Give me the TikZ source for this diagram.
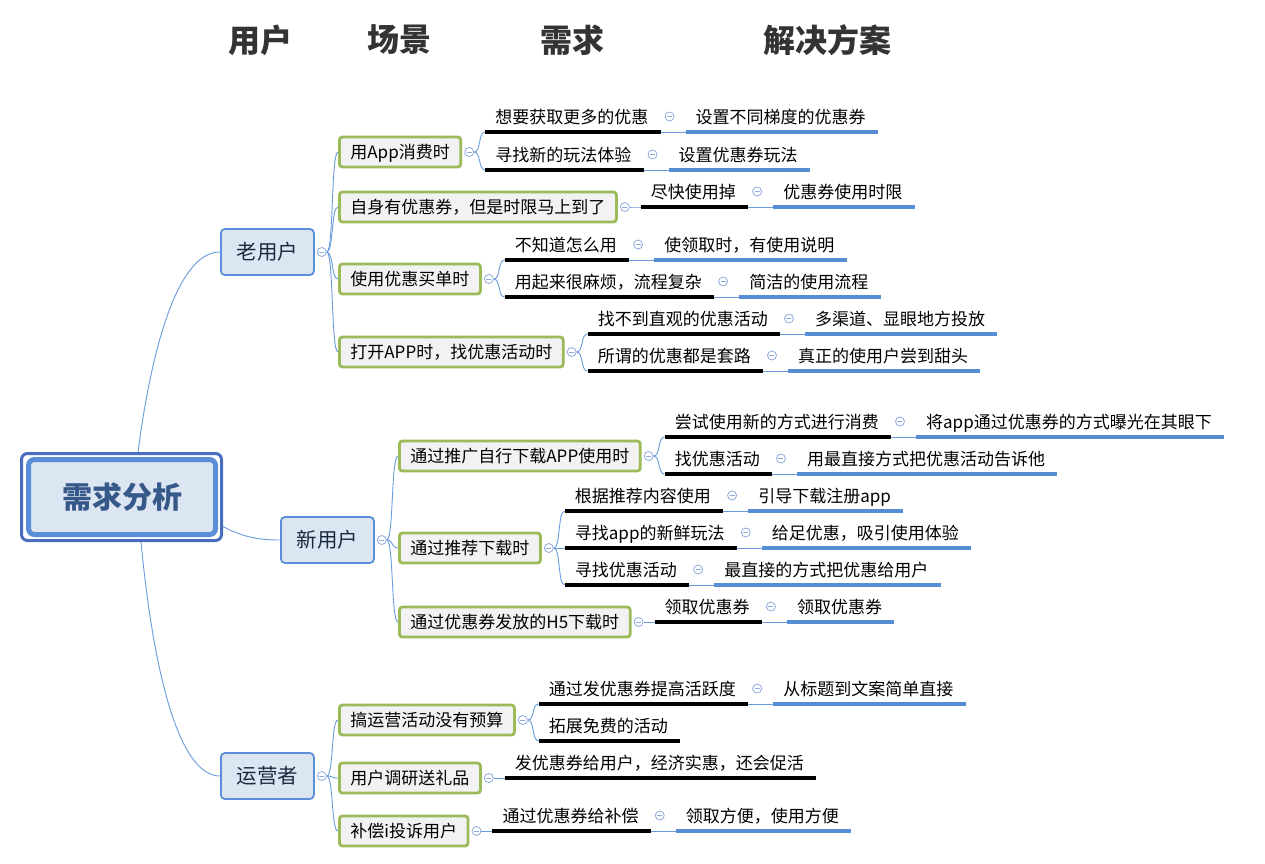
\documentclass[tikz,border=0pt]{standalone}
\usepackage{fontspec}
\setmainfont{Noto Sans CJK SC}
\usetikzlibrary{calc}
\pgfdeclarelayer{bg}
\pgfsetlayers{bg,main}
\definecolor{headgray}{HTML}{333333}
\definecolor{lbluebd}{HTML}{5B8FD9}
\definecolor{lbluefill}{HTML}{DCE6F2}
\definecolor{darktext}{HTML}{1A2B40}
\definecolor{greenbd}{HTML}{9BBB59}
\definecolor{grayfill}{HTML}{F2F2F2}
\definecolor{ulbluec}{HTML}{558ED5}
\definecolor{connc}{HTML}{6A9BDC}
\definecolor{collbd}{HTML}{8FAADC}
\definecolor{rootoutc}{HTML}{4A6EBE}
\definecolor{rootinc}{HTML}{5A8ED6}
\definecolor{roottext}{HTML}{37598A}
\newcommand\scene[5]{%
  \node[ltwo, anchor=west] (#1) at (#3,#4) {#5};
  \node[coll] (#1c) at ($(#1.east)+(7,0)$) {};
  \begin{pgfonlayer}{bg}\draw[conn] (#2.east) .. controls +(7,0) and +(-7,0) .. (#1.west);\end{pgfonlayer}
}
\newcommand\need[4]{%
  \coordinate (#1x) at ($(#2.east)+(11,0)$);
  \coordinate (#1u) at (#1x |- 0,#3);
  \node[lthree, anchor=west] (#1) at ($(#1u)+(10,-15.5)$) {#4};
  \coordinate (#1e) at ($(#1.east)+(12,15.5)$);
  \draw[ulblack] (#1u) -- (#1e);
  \begin{pgfonlayer}{bg}\draw[conn] (#2.east) .. controls +(7,0) and +(-7,0) .. (#1u);\end{pgfonlayer}
}
\newcommand\sol[3]{%
  \node[coll] (#1c) at ($(#2.east)+(21,0)$) {};
  \node[lfour, anchor=west] (#1) at ($(#1c)+(26,0)$) {#3};
  \coordinate (#1u) at ($(#1.west)+(-10,15.5)$);
  \draw[ulblue] (#1u) -- ($(#1.east)+(12,15.5)$);
  \begin{pgfonlayer}{bg}\draw[conn] (#2e) -- (#1u);\end{pgfonlayer}
}
\begin{document}
\begin{tikzpicture}[x=1pt,y=-1pt,
  head/.style={font=\fontsize{32}{36}\selectfont\bfseries, text=headgray, inner sep=0},
  rootout/.style={draw=rootoutc, line width=3pt, fill=white, rounded corners=6pt, minimum width=200pt, minimum height=87pt, inner sep=0},
  rootin/.style={draw=rootinc, line width=5pt, fill=lbluefill, rounded corners=6pt, minimum width=187pt, minimum height=75pt, inner sep=0, font=\fontsize{30}{34}\selectfont\bfseries, text=roottext},
  lone/.style={draw=lbluebd, line width=1.8pt, fill=lbluefill, rounded corners=4pt, minimum width=93pt, minimum height=46pt, inner sep=0, font=\fontsize{20.5}{24}\selectfont, text=darktext},
  ltwo/.style={draw=greenbd, line width=2.8pt, fill=grayfill, rounded corners=3pt, minimum height=30pt, inner xsep=11pt, inner ysep=0, font=\fontsize{17}{20}\selectfont, text height=15pt, text depth=2pt},
  lthree/.style={inner sep=0, font=\fontsize{17}{20}\selectfont, text height=15pt, text depth=2pt},
  lfour/.style={inner sep=0, font=\fontsize{17}{20}\selectfont, text height=15pt, text depth=2pt},
  coll/.style={circle, draw=collbd, line width=0.8pt, fill=white, minimum size=9pt, inner sep=0,
    path picture={\draw[collbd, line width=0.8pt] ([xshift=-2.5pt]path picture bounding box.center) -- ([xshift=2.5pt]path picture bounding box.center);}},
  ulblack/.style={line width=3.2pt, draw=black},
  ulblue/.style={line width=3.2pt, draw=ulbluec},
  conn/.style={line width=0.9pt, draw=connc}
]
\useasboundingbox (0,0) rectangle (1265,863);
\begin{pgfonlayer}{bg}\fill[white] (0,0) rectangle (1265,863);\end{pgfonlayer}

% header
\node[head] (h1) at (260,40) {用户};
\node[head] (h2) at (399,40) {场景};
\node[head] (h3) at (572,40) {需求};
\node[head] (h4) at (827,40) {解决方案};

% root
\node[rootout] (rootbox) at (121.5,497) {};
\node[rootin] (root) at (122,497) {需求分析};
\coordinate (rtop) at ($(rootbox.north)+(16.5,0)$);
\coordinate (rbot) at ($(rootbox.south)+(19.5,0)$);
\coordinate (rright) at ($(rootbox.east)+(-3,28)$);

% level 1
\node[lone, anchor=west] (old) at (220,252) {老用户};
\node[coll] (oldc) at ($(old.east)+(7,0)$) {};
\node[lone, anchor=west] (new) at (280,540) {新用户};
\node[coll] (newc) at ($(new.east)+(7,0)$) {};
\node[lone, anchor=west] (ops) at (220,776) {运营者};
\node[coll] (opsc) at ($(ops.east)+(7,0)$) {};
\begin{pgfonlayer}{bg}
\draw[conn] (rtop) .. controls (150,360) and (175,252) .. (old.west);
\draw[conn] (rbot) .. controls (153,668) and (178,776) .. (ops.west);
\draw[conn] (rright) .. controls (242,537) and (258,540) .. (new.west);
\end{pgfonlayer}

% level 2
\scene{s1}{oldc}{338}{152}{用App消费时}
\scene{s2}{oldc}{338}{207}{自身有优惠券，但是时限马上到了}
\scene{s3}{oldc}{338}{279}{使用优惠买单时}
\scene{s4}{oldc}{338}{352}{打开APP时，找优惠活动时}
\scene{s5}{newc}{398}{456}{通过推广自行下载APP使用时}
\scene{s6}{newc}{398}{548}{通过推荐下载时}
\scene{s7}{newc}{398}{622}{通过优惠券发放的H5下载时}
\scene{s8}{opsc}{338}{720}{搞运营活动没有预算}
\scene{s9}{opsc}{338}{778}{用户调研送礼品}
\scene{s10}{opsc}{338}{831}{补偿i投诉用户}

% level 3 and 4
\need{n1}{s1c}{132}{想要获取更多的优惠}\sol{m1}{n1}{设置不同梯度的优惠券}
\need{n2}{s1c}{170}{寻找新的玩法体验}\sol{m2}{n2}{设置优惠券玩法}
\need{n3}{s2c}{207}{尽快使用掉}\sol{m3}{n3}{优惠券使用时限}
\need{n4}{s3c}{260}{不知道怎么用}\sol{m4}{n4}{使领取时，有使用说明}
\need{n5}{s3c}{297}{用起来很麻烦，流程复杂}\sol{m5}{n5}{简洁的使用流程}
\need{n6}{s4c}{334}{找不到直观的优惠活动}\sol{m6}{n6}{多渠道、显眼地方投放}
\need{n7}{s4c}{371}{所谓的优惠都是套路}\sol{m7}{n7}{真正的使用户尝到甜头}
\need{n8}{s5c}{437}{尝试使用新的方式进行消费}\sol{m8}{n8}{将app通过优惠券的方式曝光在其眼下}
\need{n9}{s5c}{474}{找优惠活动}\sol{m9}{n9}{用最直接方式把优惠活动告诉他}
\need{n10}{s6c}{511}{根据推荐内容使用}\sol{m10}{n10}{引导下载注册app}
\need{n11}{s6c}{548}{寻找app的新鲜玩法}\sol{m11}{n11}{给足优惠，吸引使用体验}
\need{n12}{s6c}{585}{寻找优惠活动}\sol{m12}{n12}{最直接的方式把优惠给用户}
\need{n13}{s7c}{622}{领取优惠券}\sol{m13}{n13}{领取优惠券}
\need{n14}{s8c}{704}{通过发优惠券提高活跃度}\sol{m14}{n14}{从标题到文案简单直接}
\need{n15}{s8c}{741}{拓展免费的活动}
\need{n16}{s9c}{778}{发优惠券给用户，经济实惠，还会促活}
\need{n17}{s10c}{831}{通过优惠券给补偿}\sol{m17}{n17}{领取方便，使用方便}
\end{tikzpicture}
\end{document}
